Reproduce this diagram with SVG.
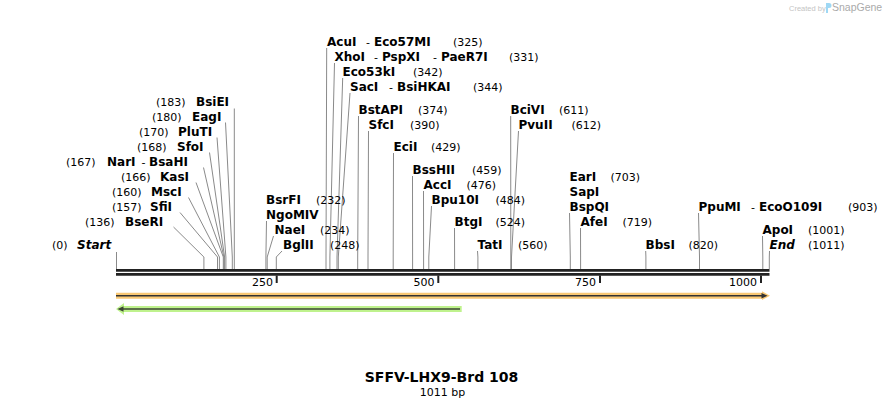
<svg xmlns="http://www.w3.org/2000/svg" width="886" height="408" viewBox="0 0 886 408">
<style>
text{font-family:"DejaVu Sans","Verdana",sans-serif;fill:#000}
.n{font-size:12px;font-weight:bold}
.i{font-size:12px;font-weight:bold;font-style:italic}
.c{font-size:11px}
.d{font-size:11px}
.l{stroke:#8a8a8a;stroke-width:1;fill:none}
.r{stroke:#222;stroke-width:2.7}
.t{stroke:#222;stroke-width:2}
.tl{font-size:11px;text-anchor:end}
</style>
<rect width="886" height="408" fill="#fff"/>
<g id="watermark">
<text x="789" y="11" style="font-family:'Liberation Sans',Arial,sans-serif;font-size:7.5px;fill:#c4c4c4">Created by</text>
<path d="M826,3 h3 a2.5,2.5 0 0 1 0,5 h-1 v5 h-2 z" fill="#9fd8f4"/>
<text x="832" y="11" style="font-family:'Liberation Sans',Arial,sans-serif;font-size:10.5px;fill:#aaa">SnapGene</text>
</g>
<g id="connectors">
<path class="l" d="M116.5,252 V269"/>
<path class="l" d="M173.5,227 L203.9,257 V269"/>
<path class="l" d="M180,212.5 L217.5,257 V269"/>
<path class="l" d="M188.5,197.5 L219.4,257 V269"/>
<path class="l" d="M196,182.5 L223.3,257 V269"/>
<path class="l" d="M203.5,167.5 L223.9,257 V269"/>
<path class="l" d="M209.5,152.5 L224.6,257 V269"/>
<path class="l" d="M217,137.5 L225.9,257 V269"/>
<path class="l" d="M225.5,122.5 L232.3,257 V269"/>
<path class="l" d="M234.3,108.5 L234.3,257 V269"/>
<path class="l" d="M266.5,221 L265.9,257 V269"/>
<path class="l" d="M273.5,236 L267.2,257 V269"/>
<path class="l" d="M282,251 L276.3,257 V269"/>
<path class="l" d="M326.7,48 L326,257 V269"/>
<path class="l" d="M334.5,63 L329.9,257 V269"/>
<path class="l" d="M342.7,78 L337,257 V269"/>
<path class="l" d="M350,93 L338.3,257 V269"/>
<path class="l" d="M358.5,116 L357.7,257 V269"/>
<path class="l" d="M368.5,131 L368,257 V269"/>
<path class="l" d="M393.5,153 L393.2,257 V269"/>
<path class="l" d="M412.5,176 L412.6,257 V269"/>
<path class="l" d="M423.5,191 L423.6,257 V269"/>
<path class="l" d="M431.5,206 L428.8,257 V269"/>
<path class="l" d="M454.5,228 L454.6,257 V269"/>
<path class="l" d="M477.5,251 L477.9,257 V269"/>
<path class="l" d="M510.7,116 L510.8,257 V269"/>
<path class="l" d="M518.5,131 L511.5,257 V269"/>
<path class="l" d="M569.5,213 L570.3,257 V269"/>
<path class="l" d="M580.5,228 L580.6,257 V269"/>
<path class="l" d="M645.7,251 L645.9,257 V269"/>
<path class="l" d="M698.5,213 L699.5,257 V269"/>
<path class="l" d="M762.5,236 L762.8,257 V269"/>
<path class="l" d="M769.5,251 L769.3,257 V269"/>
</g>
<g id="ruler">
<line class="r" x1="116" y1="270.3" x2="769.5" y2="270.3"/>
<line class="r" x1="116" y1="274.3" x2="769.5" y2="274.3"/>
<line class="t" x1="276.7" y1="275.5" x2="276.7" y2="283"/>
<line class="t" x1="438.3" y1="275.5" x2="438.3" y2="283"/>
<line class="t" x1="600" y1="275.5" x2="600" y2="283"/>
<line class="t" x1="761" y1="275.5" x2="761" y2="283"/>
<text class="tl" x="273" y="286">250</text>
<text class="tl" x="434.5" y="286">500</text>
<text class="tl" x="596" y="286">750</text>
<text class="tl" x="757" y="286">1000</text>
</g>
<g id="feature-forward">
<path d="M116,292.7 H762 V291.3 L770,295.7 L762,300.1 V298.7 H116 Z" fill="#f9c874"/>
<line x1="116" y1="295.7" x2="763" y2="295.7" stroke="#333" stroke-width="1.6"/>
<path d="M761.5,293 L767.5,295.7 L761.5,298.4 Z" fill="#333"/>
</g>
<g id="feature-reverse">
<path d="M124,306 H461.7 V312 H124 V315 L116,309 L124,303 Z" fill="#bff28d"/>
<line x1="121" y1="309" x2="460" y2="309" stroke="#3c4634" stroke-width="1.6"/>
<path d="M117.5,309 L123.5,306.3 L123.5,311.7 Z" fill="#3c4634"/>
</g>
<g id="site-Start"><text class="c" x="52" y="249">(0)</text><text class="i" x="77" y="249">Start</text></g>
<g id="site-BseRI"><text class="c" x="85" y="226">(136)</text><text class="n" x="125" y="226">BseRI</text></g>
<g id="site-SfiI"><text class="c" x="112" y="211">(157)</text><text class="n" x="150" y="211">SfiI</text></g>
<g id="site-MscI"><text class="c" x="112" y="196">(160)</text><text class="n" x="151" y="196">MscI</text></g>
<g id="site-KasI"><text class="c" x="121" y="181">(166)</text><text class="n" x="160" y="181">KasI</text></g>
<g id="site-NarI"><text class="c" x="66" y="166">(167)</text><text class="n" x="107" y="166">NarI</text><text class="d" x="141.5" y="166">-</text><text class="n" x="149" y="166">BsaHI</text></g>
<g id="site-SfoI"><text class="c" x="137" y="151">(168)</text><text class="n" x="177" y="151">SfoI</text></g>
<g id="site-PluTI"><text class="c" x="139" y="136">(170)</text><text class="n" x="178" y="136">PluTI</text></g>
<g id="site-EagI"><text class="c" x="152" y="121">(180)</text><text class="n" x="192" y="121">EagI</text></g>
<g id="site-BsiEI"><text class="c" x="156" y="106">(183)</text><text class="n" x="196" y="106">BsiEI</text></g>
<g id="site-BsrFI"><text class="n" x="266" y="204">BsrFI</text><text class="c" x="316" y="204">(232)</text><text class="n" x="266" y="219">NgoMIV</text></g>
<g id="site-NaeI"><text class="n" x="274.5" y="234">NaeI</text><text class="c" x="320" y="234">(234)</text></g>
<g id="site-BglII"><text class="n" x="283" y="249">BglII</text><text class="c" x="330" y="249">(248)</text></g>
<g id="site-AcuI"><text class="n" x="327" y="46">AcuI</text><text class="d" x="366" y="46">-</text><text class="n" x="374" y="46">Eco57MI</text><text class="c" x="453" y="46">(325)</text></g>
<g id="site-XhoI"><text class="n" x="334.5" y="61">XhoI</text><text class="d" x="374" y="61">-</text><text class="n" x="382" y="61">PspXI</text><text class="d" x="433" y="61">-</text><text class="n" x="441" y="61">PaeR7I</text><text class="c" x="509" y="61">(331)</text></g>
<g id="site-Eco53kI"><text class="n" x="342.5" y="76">Eco53kI</text><text class="c" x="413" y="76">(342)</text></g>
<g id="site-SacI"><text class="n" x="350" y="91">SacI</text><text class="d" x="389" y="91">-</text><text class="n" x="397" y="91">BsiHKAI</text><text class="c" x="473" y="91">(344)</text></g>
<g id="site-BstAPI"><text class="n" x="358.5" y="114">BstAPI</text><text class="c" x="418" y="114">(374)</text></g>
<g id="site-SfcI"><text class="n" x="368.5" y="129">SfcI</text><text class="c" x="410" y="129">(390)</text></g>
<g id="site-EciI"><text class="n" x="393.5" y="151">EciI</text><text class="c" x="431" y="151">(429)</text></g>
<g id="site-BssHII"><text class="n" x="412.5" y="174">BssHII</text><text class="c" x="472" y="174">(459)</text></g>
<g id="site-AccI"><text class="n" x="423.5" y="189">AccI</text><text class="c" x="466.5" y="189">(476)</text></g>
<g id="site-Bpu10I"><text class="n" x="431.5" y="204">Bpu10I</text><text class="c" x="495.5" y="204">(484)</text></g>
<g id="site-BtgI"><text class="n" x="454.5" y="226">BtgI</text><text class="c" x="495.5" y="226">(524)</text></g>
<g id="site-TatI"><text class="n" x="477.5" y="249">TatI</text><text class="c" x="518" y="249">(560)</text></g>
<g id="site-BciVI"><text class="n" x="510.5" y="114">BciVI</text><text class="c" x="559" y="114">(611)</text></g>
<g id="site-PvuII"><text class="n" x="518.5" y="129">PvuII</text><text class="c" x="571.5" y="129">(612)</text></g>
<g id="site-EarI"><text class="n" x="569.5" y="181">EarI</text><text class="c" x="610.5" y="181">(703)</text><text class="n" x="569.5" y="196">SapI</text><text class="n" x="569.5" y="211">BspQI</text></g>
<g id="site-AfeI"><text class="n" x="580.5" y="226">AfeI</text><text class="c" x="622.5" y="226">(719)</text></g>
<g id="site-BbsI"><text class="n" x="645.5" y="249">BbsI</text><text class="c" x="688.5" y="249">(820)</text></g>
<g id="site-PpuMI"><text class="n" x="698.5" y="211">PpuMI</text><text class="d" x="751" y="211">-</text><text class="n" x="759" y="211">EcoO109I</text><text class="c" x="848" y="211">(903)</text></g>
<g id="site-ApoI"><text class="n" x="762.5" y="234">ApoI</text><text class="c" x="808" y="234">(1001)</text></g>
<g id="site-End"><text class="i" x="769.5" y="249">End</text><text class="c" x="808" y="249">(1011)</text></g>
<g id="title">
<text x="441.5" y="382" text-anchor="middle" style="font-size:14px;font-weight:bold">SFFV-LHX9-Brd 108</text>
<text x="442.5" y="396" text-anchor="middle" style="font-size:11px">1011 bp</text>
</g>
</svg>
